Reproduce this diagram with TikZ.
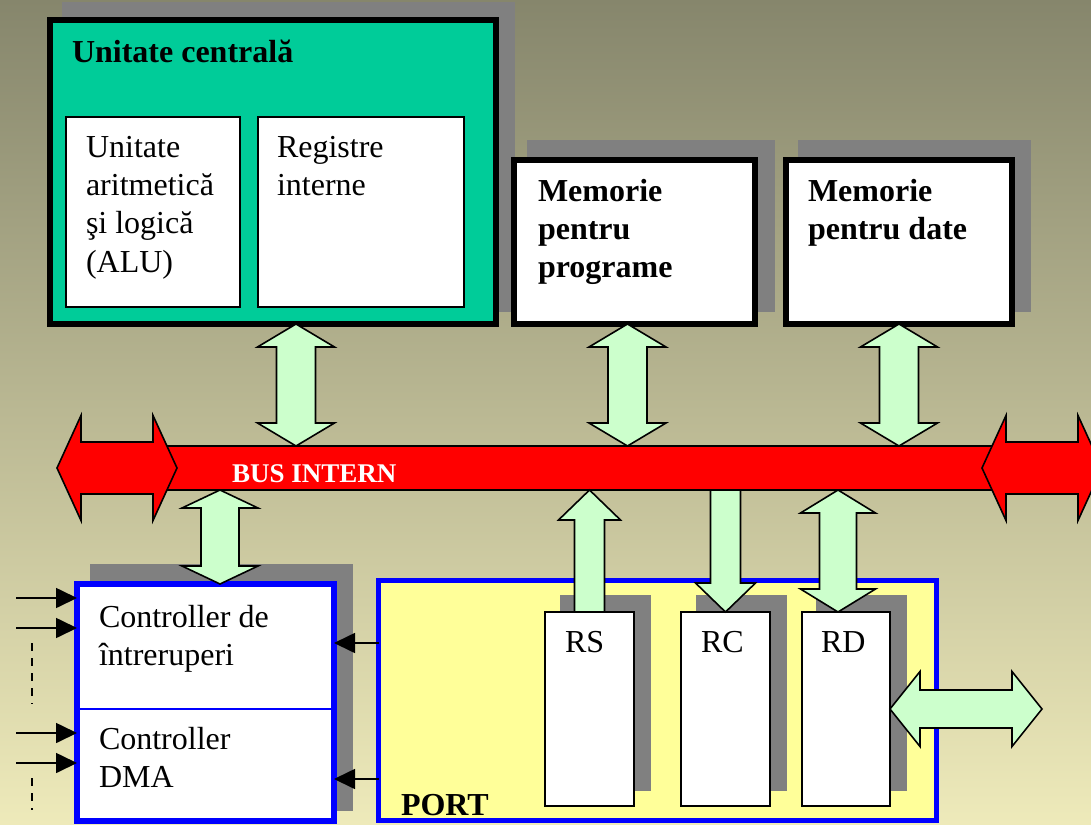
\documentclass[tikz,border=0pt]{standalone}
\usepackage{fontspec}
\setmainfont{Liberation Serif}
\usetikzlibrary{calc,fit,arrows.meta}

\definecolor{bgtop}{RGB}{134,134,108}
\definecolor{bgbot}{RGB}{238,234,186}
\definecolor{cpuGreen}{RGB}{0,204,153}
\definecolor{arrowGreen}{RGB}{204,255,204}
\definecolor{portYellow}{RGB}{255,255,153}
\definecolor{shadowGray}{RGB}{128,128,128}

% several left-aligned lines whose baseline is the first line
\newcommand\stacktext[1]{\begin{tabular}[t]{@{}l@{}}#1\end{tabular}}

% vertical double block arrow: style, top tip, bottom tip, head half-width, shaft half-width, head length
\newcommand\dblvert[6]{%
  \draw[#1] (#2) -- ++(#4,#6) -- ++({#5-#4},0) -- ($(#3)+(#5,-#6)$) -- ++({#4-#5},0)
    -- (#3) -- ++({-#4},{-#6}) -- ++({#4-#5},0) -- ($(#2)+(-#5,#6)$) -- ++({#5-#4},0) -- cycle;}
% horizontal double block arrow: style, left tip, right tip, head half-height, shaft half-height, head length
\newcommand\dblhoriz[6]{%
  \draw[#1] (#2) -- ++(#6,{-#4}) -- ++(0,{#4-#5}) -- ($(#3)+(-#6,-#5)$) -- ++(0,{#5-#4})
    -- (#3) -- ++({-#6},#4) -- ++(0,{#5-#4}) -- ($(#2)+(#6,#5)$) -- ++(0,{#4-#5}) -- cycle;}
% single block arrow pointing up: style, tip, foot midpoint, head half-width, shaft half-width, head length
\newcommand\upblock[6]{%
  \draw[#1] (#2) -- ++(#4,#6) -- ++({#5-#4},0) -- ($(#3)+(#5,0)$) -- ($(#3)+(-#5,0)$)
    -- ($(#2)+(-#5,#6)$) -- ++({#5-#4},0) -- cycle;}
% single block arrow pointing down: style, foot midpoint, tip, head half-width, shaft half-width, head length
\newcommand\downblock[6]{%
  \draw[#1] ($(#2)+(-#5,0)$) -- ($(#2)+(#5,0)$) -- ($(#3)+(#5,-#6)$) -- ++({#4-#5},0)
    -- (#3) -- ++({-#4},{-#6}) -- ++({#4-#5},0) -- cycle;}

\begin{document}
\begin{tikzpicture}[x=0.5pt,y=-0.5pt,
  every node/.style={inner sep=0pt,outer sep=0pt},
  lbl/.style={anchor=base west,font=\fontsize{16}{19.2}\selectfont},
  heavybox/.style={draw=black,line width=3pt},
  thinbox/.style={draw=black,fill=white,line width=1pt},
  bluebox/.style={draw=blue,line width=3pt},
  blockarrow/.style={draw=black,fill=arrowGreen,line width=0.8pt,line join=miter},
  busarrow/.style={draw=black,fill=red,line width=0.8pt,line join=miter},
  sig/.style={line width=0.85pt,-{Triangle[length=10.5pt,width=10pt]}},
  dashmark/.style={line width=0.9pt,dash pattern=on 4pt off 3.5pt},
]
\useasboundingbox (0,0) rectangle (1091,824);
\clip (0,0) rectangle (1091,824);
\shade[top color=bgtop,bottom color=bgbot] (0,0) rectangle (1091,824);

% central unit
\fill[shadowGray] (62,2) rectangle (515,312);
\node[heavybox,fill=cpuGreen,fit={(50,20) (496,324)}] (cpu) {};
\node[thinbox,fit={(66,117) (240,307)}] (alu) {};
\node[thinbox,fit={(258,117) (464,307)}] (reg) {};
\node[lbl] (cpuT) at (72,63) {\bfseries Unitate centrală};
\node[lbl] (aluT) at (86,157) {\stacktext{Unitate\\aritmetică\\şi logică\\(ALU)}};
\node[lbl] (regT) at (277,157) {\stacktext{Registre\\interne}};

% memories
\fill[shadowGray] (527,140) rectangle (775,312);
\node[heavybox,fill=white,fit={(514,160) (755,324)}] (memp) {};
\node[lbl] (mempT) at (538,201) {\bfseries\stacktext{Memorie\\pentru\\programe}};
\fill[shadowGray] (798,140) rectangle (1031,312);
\node[heavybox,fill=white,fit={(786,160) (1012,324)}] (memd) {};
\node[lbl] (memdT) at (808,201) {\bfseries\stacktext{Memorie\\pentru date}};

% internal bus
\node[draw=black,fill=red,line width=0.8pt,fit={(160,446) (1000,490)}] (bus) {};
\coordinate (busL1) at (57,468);
\coordinate (busL2) at (177,468);
\coordinate (busR1) at (982,468);
\coordinate (busR2) at (1102,468);
\dblhoriz{busarrow}{busL1}{busL2}{52.5}{26}{24}
\dblhoriz{busarrow}{busR1}{busR2}{52.5}{26}{24}
\node[anchor=base west,text=white,font=\fontsize{13.5}{16}\selectfont\bfseries] (busT) at (232,482) {BUS INTERN};

% links between the upper units and the bus
\coordinate (c1t) at (296,0 |- cpu.south);
\coordinate (c1b) at (296,0 |- bus.north);
\coordinate (c2t) at (627.5,0 |- memp.south);
\coordinate (c2b) at (627.5,0 |- bus.north);
\coordinate (c3t) at (899,0 |- memd.south);
\coordinate (c3b) at (899,0 |- bus.north);
\dblvert{blockarrow}{c1t}{c1b}{38.5}{19.5}{23}
\dblvert{blockarrow}{c2t}{c2b}{38.5}{19.5}{23}
\dblvert{blockarrow}{c3t}{c3b}{38.5}{19.5}{23}

% interrupt and DMA controllers
\fill[shadowGray] (90,564) rectangle (353,811);
\node[bluebox,fill=white,fit={(77,584) (334,821)}] (ctrl) {};
\draw[blue,line width=1pt] (ctrl.west |- 0,709) -- (ctrl.east |- 0,709);
\node[lbl] (intT) at (99,627) {\stacktext{Controller de\\întreruperi}};
\node[lbl] (dmaT) at (99,749) {\stacktext{Controller\\DMA}};

% port with its registers
\node[bluebox,line width=2.5pt,fill=portYellow,fit={(378.5,580.5) (936.5,820.5)}] (port) {};
\node[anchor=base west,font=\fontsize{16}{19.2}\selectfont\bfseries] (portT) at (401,815) {PORT};
\fill[shadowGray] (560,595) rectangle (651,791);
\fill[shadowGray] (696,595) rectangle (787,791);
\fill[shadowGray] (816,595) rectangle (907,791);
\node[thinbox,fit={(545,612) (634,806)}] (rs) {};
\node[thinbox,fit={(681,612) (770,806)}] (rc) {};
\node[thinbox,fit={(802,612) (890,806)}] (rd) {};
\node[lbl] (rsT) at (565,652) {RS};
\node[lbl] (rcT) at (701,652) {RC};
\node[lbl] (rdT) at (821,652) {RD};

% links below the bus
\coordinate (k1t) at (220,0 |- bus.south);
\coordinate (k1b) at (220,0 |- ctrl.north);
\dblvert{blockarrow}{k1t}{k1b}{38}{19}{18}
\coordinate (rsTip) at (rs.north |- bus.south);
\upblock{blockarrow}{rsTip}{rs.north}{31}{15}{30}
\coordinate (rcTop) at (rc.north |- bus.south);
\downblock{blockarrow}{rcTop}{rc.north}{30}{15}{29}
\coordinate (rdt) at (838,0 |- bus.south);
\coordinate (rdb) at (838,0 |- rd.north);
\dblvert{blockarrow}{rdt}{rdb}{37.5}{18.5}{23}
\coordinate (rdL) at (rd.east |- 0,709);
\coordinate (ext) at (1042,709);
\dblhoriz{blockarrow}{rdL}{ext}{37.5}{19}{30}

% request lines into the controllers
\foreach \yy [count=\i] in {598,628,733,763}{
  \coordinate (in\i) at (16,\yy);
  \draw[sig] (in\i) -- (ctrl.west |- in\i);
}
\draw[dashmark] (32,643) -- (32,704);
\draw[dashmark] (32,778) -- (32,810);
\draw[sig] (port.west |- 0,643) -- (ctrl.east |- 0,643);
\draw[sig] (port.west |- 0,779) -- (ctrl.east |- 0,779);
\end{tikzpicture}
\end{document}
